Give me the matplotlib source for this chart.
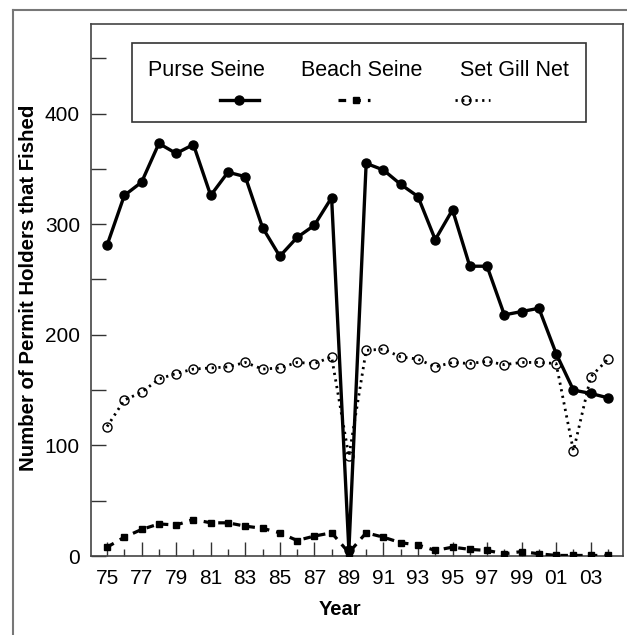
import matplotlib
matplotlib.use("Agg")
import matplotlib.pyplot as plt
from matplotlib.lines import Line2D
from matplotlib.patches import Rectangle
from matplotlib.ticker import MultipleLocator, FixedLocator

plt.rcParams['font.family'] = ['Liberation Sans', 'DejaVu Sans']

years = list(range(1975, 2005))
purse_seine = [281, 326, 338, 373, 364, 372, 326, 347, 343, 297, 271, 288, 299, 324,
               5, 355, 349, 336, 325, 286, 313, 262, 262, 218, 221, 224, 183, 150, 147, 143]
beach_seine = [8, 17, 24, 29, 28, 33, 30, 30, 27, 25, 21, 14, 18, 21,
               3, 21, 17, 12, 10, 5, 8, 6, 5, 2, 4, 2, 0.5, 0.5, 0.5, 0.5]
set_gill_net = [117, 141, 148, 160, 165, 169, 170, 171, 175, 169, 170, 175, 174, 180,
                90, 186, 187, 180, 178, 171, 175, 174, 176, 173, 175, 175, 174, 95, 162, 178]
series_names = ["Purse Seine", "Beach Seine", "Set Gill Net"]
xtick_years = list(range(1975, 2004, 2))
xtick_labels = [f"{y % 100:02d}" for y in xtick_years]
ytick_values = [0, 100, 200, 300, 400]

W, H = 627, 635
fig = plt.figure(figsize=(W / 100, H / 100), dpi=100)
ax = fig.add_axes([91 / W, 1 - 556 / H, (623 - 91) / W, (556 - 24) / H])

styles = [
    dict(color='black', lw=2.4, ls='-', marker='o', ms=6.5, mfc='black', mec='black'),
    dict(color='black', lw=2.3, ls=(0, (2.4, 2.2)), marker='s', ms=5, mfc='black', mec='black'),
    dict(color='black', lw=2.0, ls=(0, (0.8, 1.6)), marker='o', ms=6.5, mfc='none', mec='black', mew=1.0),
]
data = [purse_seine, beach_seine, set_gill_net]
for i in [2, 1, 0]:
    ax.plot(years, data[i], zorder=3 + (2 - i), clip_on=True, **styles[i])

ax.set_xlim(1974.07, 2004.87)
ax.set_ylim(0, 481)
ax.xaxis.set_major_locator(FixedLocator(xtick_years))
ax.set_xticklabels(xtick_labels)
ax.xaxis.set_minor_locator(MultipleLocator(1))
ax.yaxis.set_major_locator(FixedLocator(ytick_values))
ax.yaxis.set_minor_locator(MultipleLocator(50))

ax.tick_params(axis='x', which='major', direction='in', length=10, width=1, pad=9,
               labelsize=15, color='#333333')
ax.tick_params(axis='x', which='minor', direction='in', length=5, width=1, color='#333333')
ax.tick_params(axis='y', which='both', direction='in', length=11, width=1, pad=8,
               labelsize=15, color='#333333')
for s in ax.spines.values():
    s.set_color('#444444')
    s.set_linewidth(1.2)

ax.set_xlabel("Year", fontsize=14.5, fontweight='bold')
ax.xaxis.set_label_coords((340 - 91) / (623 - 91), -(600 - 556) / (556 - 24))
ax.set_ylabel("Number of Permit Holders that Fished", fontsize=14.7, fontweight='bold')
ax.yaxis.set_label_coords(-(91 - 38) / (623 - 91), (556 - 288) / (556 - 24))

def fx(px):
    return px / W

def fy(py):
    return 1 - py / H

# custom legend: labels above handles
fig.add_artist(Rectangle((fx(132), fy(122)), fx(586) - fx(132), fy(43) - fy(122),
                         transform=fig.transFigure, fill=True, facecolor='white',
                         edgecolor='#333333', lw=1.2, zorder=10))
label_x = [206, 362, 514]
handle_x = [(220, 259, 239), (338, 370, 356), (455, 490, 466)]
for i, name in enumerate(series_names):
    fig.text(fx(label_x[i]), fy(70), name, ha='center', va='center', fontsize=15.5, zorder=11)
    x0, x1, xm = handle_x[i]
    st = dict(styles[i])
    marker = st.pop('marker'); ms = st.pop('ms'); mfc = st.pop('mfc'); mec = st.pop('mec')
    mew = st.pop('mew', 1.0)
    fig.add_artist(Line2D([fx(x0), fx(x1)], [fy(100), fy(100)], transform=fig.transFigure,
                          zorder=11, **st))
    fig.add_artist(Line2D([fx(xm)], [fy(100)], transform=fig.transFigure, ls='none',
                          marker=marker, ms=ms, mfc=mfc, mec=mec, mew=mew, zorder=12))

# outer frame (top and left visible)
fig.add_artist(Line2D([fx(13), 1], [fy(10), fy(10)], transform=fig.transFigure,
                      color='#777777', lw=1.5))
fig.add_artist(Line2D([fx(13), fx(13)], [fy(10), 0], transform=fig.transFigure,
                      color='#777777', lw=1.5))

fig.savefig("out.png", dpi=100)
